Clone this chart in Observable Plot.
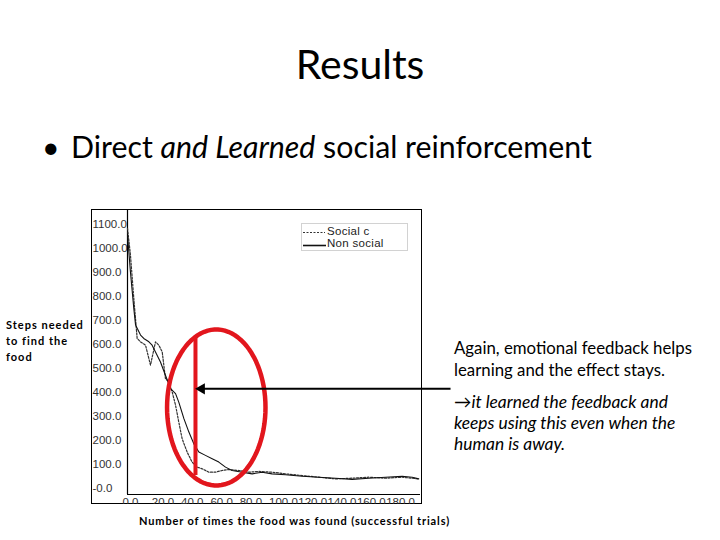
<!DOCTYPE html>
<html>
<head>
<meta charset="utf-8">
<script src="https://cdn.jsdelivr.net/npm/d3@7"></script>
<script src="https://cdn.jsdelivr.net/npm/@observablehq/plot@0.6"></script>
<style>
  html, body { margin:0; padding:0; background:#fff; }
  body { width:720px; height:540px; position:relative; overflow:hidden; font-family: Lato, "Open Sans", sans-serif; color:#000; }
  .abs { position:absolute; white-space:nowrap; }
  #frame { position:absolute; left:91px; top:209px; width:331px; height:295px; border:1px solid #000; box-sizing:border-box; }
  #chart { position:absolute; left:0; top:0; }
  #mask { position:absolute; left:92px; top:504px; width:329px; height:10px; background:#fff; }
  #legend { position:absolute; left:301px; top:223px; width:107px; height:28px; border:1px solid #d2d2d2; box-sizing:border-box; background:#fff; font-family:"Liberation Sans", Arial, sans-serif; font-size:11.5px; color:#222; }
</style>
</head>
<body>
<div id="frame"></div>
<div id="chart"></div>
<div id="mask"></div>
<div id="legend">
  <svg width="26" height="26" style="position:absolute;left:0;top:0">
    <line x1="1" x2="23" y1="8.5" y2="8.5" stroke="#333" stroke-width="1.2" stroke-dasharray="2,1.5"/>
    <line x1="1" x2="24" y1="21.5" y2="21.5" stroke="#111" stroke-width="1.6"/>
  </svg>
  <div class="abs" style="left:25px;top:1px;letter-spacing:0.3px">Social c</div>
  <div class="abs" style="left:25px;top:13px;letter-spacing:0.3px">Non social</div>
</div>

<div class="abs" style="left:0;width:720px;text-align:center;top:38.5px;font-size:41px;line-height:1.2;">Results</div>
<div class="abs" style="left:42px;top:128px;font-size:30.3px;line-height:1.2;">•</div>
<div class="abs" style="left:71px;top:128px;font-size:30.3px;line-height:1.2;">Direct <i>and Learned</i> social reinforcement</div>

<div class="abs" style="left:6px;top:317px;font-size:11px;font-weight:bold;line-height:16px;letter-spacing:1px;">Steps needed<br>to find the<br>food</div>

<div class="abs" style="left:454px;top:336.5px;font-size:16.8px;line-height:22px;">Again, emotional feedback helps<br>learning and the effect stays.</div>
<div class="abs" style="left:454px;top:390.6px;font-size:17.4px;line-height:21.3px;font-style:italic;">&#8594;it learned the feedback and<br>keeps using this even when the<br>human is away.</div>

<div class="abs" style="left:139px;top:514px;font-size:11px;font-weight:bold;letter-spacing:0.87px;">Number of times the food was found (successful trials)</div>

<script>
// ---- data ----
const nonSocialX = [0,2.0,4.3,5.5,8.9,11.1,14.6,16.8,19.1,22.5,25.9,29.4,32.8,35.0,38.5,41.9,45.3,48.7,53.2,57.8,62.3,66.9,71.4,78.3,85.1,91.9,98.7,107.8,119.2,130.6,142.0,153.3,164.7,176.1,187.5,194.3,198.8];
const nonSocialY = [1056,903,750,681,639,625,611,597,569,527,472,416,395,360,291,235,186,152,138,124,110,89,75,68,61,68,61,57,51,47,43,38,43,47,51,47,40];

const socialX = [0,2.0,4.3,6.6,8.9,12.3,15.7,19.1,21.4,23.7,25.9,28.2,30.5,32.8,35.0,37.3,40.7,44.1,47.6,51.0,55.5,60.1,64.6,69.2,76.0,82.8,89.6,98.7,107.8,119.2,130.6,142.0,153.3,164.7,176.1,187.5,198.8];
const socialY = [1084,973,792,625,611,597,514,611,597,569,458,444,402,347,277,207,152,110,89,82,68,68,75,79,75,68,71,68,61,54,47,40,43,47,43,47,40];

const xTicks = [0,20,40,60,80,100,120,140,160,180];
const xTickLabels = ["0.0","20.0","40.0","60.0","80.0","100.0","120.0","140.0","160.0","180.0"];
const yTicks = [0,100,200,300,400,500,600,700,800,900,1000,1100];
const yTickLabels = ["-0.0","100.0","200.0","300.0","400.0","500.0","600.0","700.0","800.0","900.0","1000.0","1100.0"];

// ---- annotations (in data units) ----
const markerLine = {x: 46.4, y1: 630, y2: 54};
const highlightEllipse = {cx: 60.6, cy: 337.5, rx: 33.6, ry: 325};
const pointerArrow = {x1: 220.5, x2: 49, y: 415, tipX: 50.6};

// ---- build tables ----
const nonSocial = nonSocialX.map((x, i) => ({x, y: nonSocialY[i]}));
const social = socialX.map((x, i) => ({x, y: socialY[i]}));
const ellipsePts = d3.range(0, 361, 4).map(a => {
  const t = a * Math.PI / 180;
  return {x: highlightEllipse.cx + highlightEllipse.rx * Math.cos(t), y: highlightEllipse.cy + highlightEllipse.ry * Math.sin(t)};
});
const red = "#e2161d";

const chart = Plot.plot({
  width: 720,
  height: 540,
  marginLeft: 127,
  marginRight: 300,
  marginTop: 210,
  marginBottom: 46,
  x: {domain: [0, 200]},
  y: {domain: [-25, 1158]},
  style: {background: "transparent", overflow: "visible", fontFamily: "'Liberation Sans', Arial, sans-serif"},
  marks: [
    Plot.axisY(yTicks, {tickSize: 0, tickPadding: 0, textAnchor: "start", dx: -35, fontSize: 11.5, fill: "#333", letterSpacing: "0.5px",
      tickFormat: d => yTickLabels[yTicks.indexOf(d)], label: null}),
    Plot.axisX(xTicks, {tickSize: 0, tickPadding: 3, textAnchor: "start", dx: -5, fontSize: 11.5, fill: "#333",
      tickFormat: d => xTickLabels[xTicks.indexOf(d)], label: null}),
    Plot.ruleX([0], {stroke: "#000", strokeWidth: 1.2}),
    Plot.ruleY([-25], {stroke: "#000", strokeWidth: 1.2}),
    Plot.line(social, {x: "x", y: "y", stroke: "#333", strokeWidth: 1.2, strokeDasharray: "2,1.5"}),
    Plot.line(nonSocial, {x: "x", y: "y", stroke: "#111", strokeWidth: 1.1}),
    Plot.line(ellipsePts, {x: "x", y: "y", stroke: red, strokeWidth: 4.5, curve: "linear-closed"}),
    Plot.ruleX([markerLine.x], {y1: markerLine.y1, y2: markerLine.y2, stroke: red, strokeWidth: 4}),
    Plot.link([pointerArrow], {x1: "x1", x2: "x2", y1: "y", y2: "y", stroke: "#000", strokeWidth: 2}),
    Plot.dot([pointerArrow], {x: "tipX", y: "y", symbol: "triangle", rotate: -90, r: 4.2, fill: "#000", stroke: "none"})
  ]
});
document.getElementById("chart").appendChild(chart);
</script>
</body>
</html>
